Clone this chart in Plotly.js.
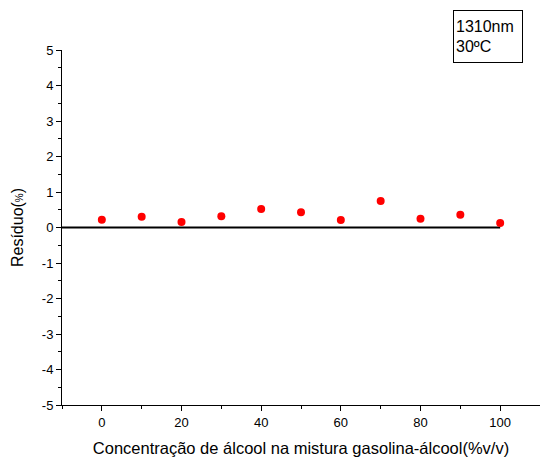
<!DOCTYPE html>
<html>
<head>
<meta charset="utf-8">
<script src="https://cdn.plot.ly/plotly-3.0.1.min.js"></script>
<style>
  html, body { margin: 0; padding: 0; background: #fff; }
  #chart { width: 540px; height: 457px; }
</style>
</head>
<body>
<div id="chart"></div>
<script>
// Alcohol concentration in the gasoline-alcohol blend (%v/v)
const concentration = [0, 10, 20, 30, 40, 50, 60, 70, 80, 90, 100];
// Residual of the fit (%)
const residual = [0.22, 0.30, 0.155, 0.32, 0.52, 0.43, 0.21, 0.75, 0.25, 0.36, 0.13];
// Zero reference line
const zeroX = [-10, 100];
const zeroY = [0, 0];

const xTickVals = [0, 20, 40, 60, 80, 100];
const xTickText = ['0', '20', '40', '60', '80', '100'];
const yTickVals = [-5, -4, -3, -2, -1, 0, 1, 2, 3, 4, 5];
const yTickText = ['-5', '-4', '-3', '-2', '-1', '0', '1', '2', '3', '4', '5'];

const traces = [
  {
    x: zeroX, y: zeroY, mode: 'lines', type: 'scatter',
    line: { color: '#000', width: 2 }, hoverinfo: 'skip', showlegend: false
  },
  {
    x: concentration, y: residual, mode: 'markers', type: 'scatter',
    marker: { color: '#ff0000', size: 8 }, showlegend: false
  }
];

const fam = 'Liberation Sans, Arial, sans-serif';

const layout = {
  width: 540, height: 457,
  margin: { l: 62, r: 0, t: 50, b: 52 },
  paper_bgcolor: '#fff', plot_bgcolor: '#fff',
  font: { family: fam, color: '#000' },
  showlegend: false,
  xaxis: {
    range: [-10, 110],
    tickvals: xTickVals, ticktext: xTickText,
    ticks: 'outside', ticklen: 5, tickwidth: 1, tickcolor: '#000',
    minor: { dtick: 10, ticks: 'outside', ticklen: 3, tickcolor: '#000' },
    showgrid: false, zeroline: false, automargin: false,
    showline: true, linecolor: '#000', linewidth: 1,
    tickfont: { size: 13, family: fam },
    title: { text: 'Concentração de álcool na mistura gasolina-álcool(%v/v)', font: { size: 16.5, family: fam }, standoff: 16 }
  },
  yaxis: {
    range: [-5, 5],
    tickvals: yTickVals, ticktext: yTickText,
    ticks: 'outside', ticklen: 5, tickwidth: 1, tickcolor: '#000',
    minor: { dtick: 0.5, ticks: 'outside', ticklen: 3, tickcolor: '#000' },
    showgrid: false, zeroline: false, automargin: false,
    showline: true, linecolor: '#000', linewidth: 1,
    tickfont: { size: 13, family: fam },
    title: { text: 'Resíduo(<span style="font-size:10px">%</span>)', font: { size: 16, family: fam }, standoff: 14 }
  },
  annotations: [
    {
      xref: 'paper', yref: 'paper', x: 0.818, y: 1.112, xanchor: 'left', yanchor: 'top',
      text: '1310nm<br>30ºC', align: 'left', valign: 'middle', showarrow: false,
      font: { size: 16, family: fam },
      bordercolor: '#000', borderwidth: 1, borderpad: 2, bgcolor: '#fff',
      width: 64, height: 47
    }
  ]
};

Plotly.newPlot('chart', traces, layout, { staticPlot: true, displayModeBar: false });
</script>
</body>
</html>
